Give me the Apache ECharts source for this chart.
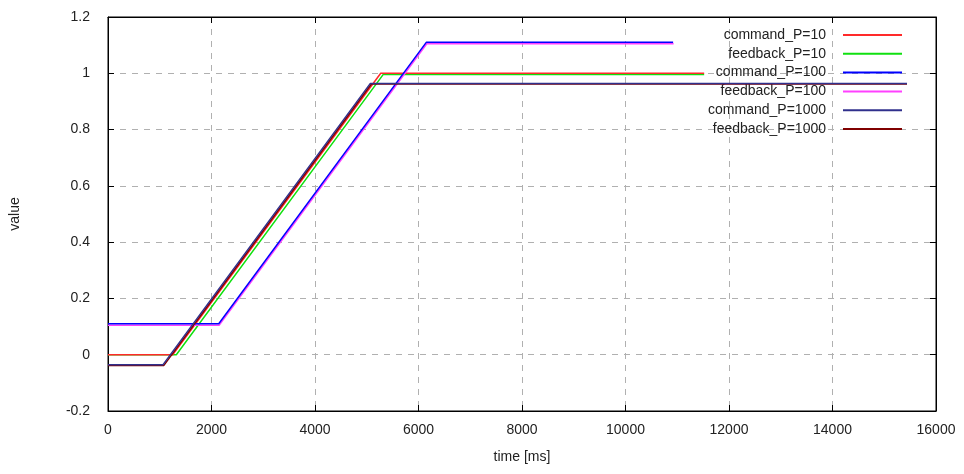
<!DOCTYPE html>
<html>
<head>
<meta charset="utf-8">
<script src="https://cdn.jsdelivr.net/npm/echarts@6/dist/echarts.min.js"></script>
<style>
  html, body { margin: 0; padding: 0; background: #fff; }
  #chart { width: 964px; height: 474px; }
</style>
</head>
<body>
<div id="chart"></div>
<script>
// break points of each trace (time in ms, value)
var cmd10X = [0, 1250, 5270, 11520];
var cmd10Y = [0, 0, 1.0, 1.0];
var fb10X = [0, 1320, 5320, 11520];
var fb10Y = [0, 0, 0.996, 0.996];
var cmd100X = [0, 2140, 6150, 10920];
var cmd100Y = [0.11, 0.11, 1.11, 1.11];
var fb100X = [0, 2150, 6160, 10930];
var fb100Y = [0.105, 0.105, 1.105, 1.105];
var cmd1000X = [0, 1060, 5070, 15440];
var cmd1000Y = [-0.036, -0.036, 0.964, 0.964];
var fb1000X = [0, 1080, 5090, 15440];
var fb1000Y = [-0.038, -0.038, 0.962, 0.962];

var names = ['command_P=10', 'feedback_P=10', 'command_P=100', 'feedback_P=100', 'command_P=1000', 'feedback_P=1000'];
var colors = ['#ff2a2a', '#10e010', '#0000ff', '#ff40ff', '#30308c', '#800000'];
// blue sits on top of magenta, red on top of green in the picture
var layer = [4, 3, 6, 5, 8, 7];
var xTicks = [0, 16000, 2000];
var yTicks = [-0.2, 1.2, 0.2];

function pairs(xs, ys){
    var out = [];
    for(var i = 0; i < xs.length; i++){
        out.push([xs[i], ys[i]]);
    }
    return out;
}

var traces = [
    pairs(cmd10X, cmd10Y),
    pairs(fb10X, fb10Y),
    pairs(cmd100X, cmd100Y),
    pairs(fb100X, fb100Y),
    pairs(cmd1000X, cmd1000Y),
    pairs(fb1000X, fb1000Y)
];

var font = 'Liberation Sans';
var series = [];
for(var i = 0; i < traces.length; i++){
    series.push({
        name: names[i],
        type: 'line',
        data: traces[i],
        symbol: 'none',
        silent: true,
        z: layer[i],
        lineStyle: { color: colors[i], width: 1.5 },
        itemStyle: { color: colors[i] }
    });
}

var tick = { show: true, inside: true, length: 6, lineStyle: { color: '#000' } };
var frame = { show: true, onZero: false, lineStyle: { color: '#000' } };
var grid = { show: true, lineStyle: { color: '#b0b0b0', type: [6, 6] } };

var myChart = echarts.init(document.getElementById('chart'));
var option = {
    backgroundColor: '#fff',
    animation: false,
    color: colors,
    grid: {
        left: 106, right: 28, top: 17, bottom: 63,
        show: true, borderColor: '#000', borderWidth: 1
    },
    legend: {
        orient: 'vertical',
        right: 56,
        top: 23,
        align: 'right',
        itemWidth: 59,
        itemHeight: 14,
        itemGap: 4.8,
        selectedMode: false,
        itemStyle: { opacity: 0 },
        textStyle: {
            fontFamily: font, fontSize: 14, color: '#222',
            padding: [0, 12, 0, 0]
        },
        data: names
    },
    xAxis: [{
        type: 'value',
        min: xTicks[0], max: xTicks[1], interval: xTicks[2],
        name: 'time [ms]',
        nameLocation: 'middle',
        nameGap: 39,
        nameTextStyle: { fontFamily: font, fontSize: 14, color: '#222' },
        axisLine: frame,
        axisTick: tick,
        axisLabel: {
            fontFamily: font, fontSize: 14, color: '#222', margin: 12,
            formatter: function(v){ return String(v); }
        },
        splitLine: grid
    }, {
        type: 'value',
        position: 'top',
        min: xTicks[0], max: xTicks[1], interval: xTicks[2],
        axisLine: frame,
        axisTick: tick,
        axisLabel: { show: false },
        splitLine: { show: false }
    }],
    yAxis: [{
        type: 'value',
        min: yTicks[0], max: yTicks[1], interval: yTicks[2],
        name: 'value',
        nameLocation: 'middle',
        nameGap: 86,
        nameRotate: 90,
        nameTextStyle: { fontFamily: font, fontSize: 14, color: '#222' },
        axisLine: frame,
        axisTick: tick,
        axisLabel: {
            fontFamily: font, fontSize: 14, color: '#222', margin: 18,
            formatter: function(v){ return String(+v.toFixed(1)); }
        },
        splitLine: grid
    }, {
        type: 'value',
        position: 'right',
        min: yTicks[0], max: yTicks[1], interval: yTicks[2],
        axisLine: frame,
        axisTick: tick,
        axisLabel: { show: false },
        splitLine: { show: false }
    }],
    series: series
};
myChart.setOption(option);
</script>
</body>
</html>
